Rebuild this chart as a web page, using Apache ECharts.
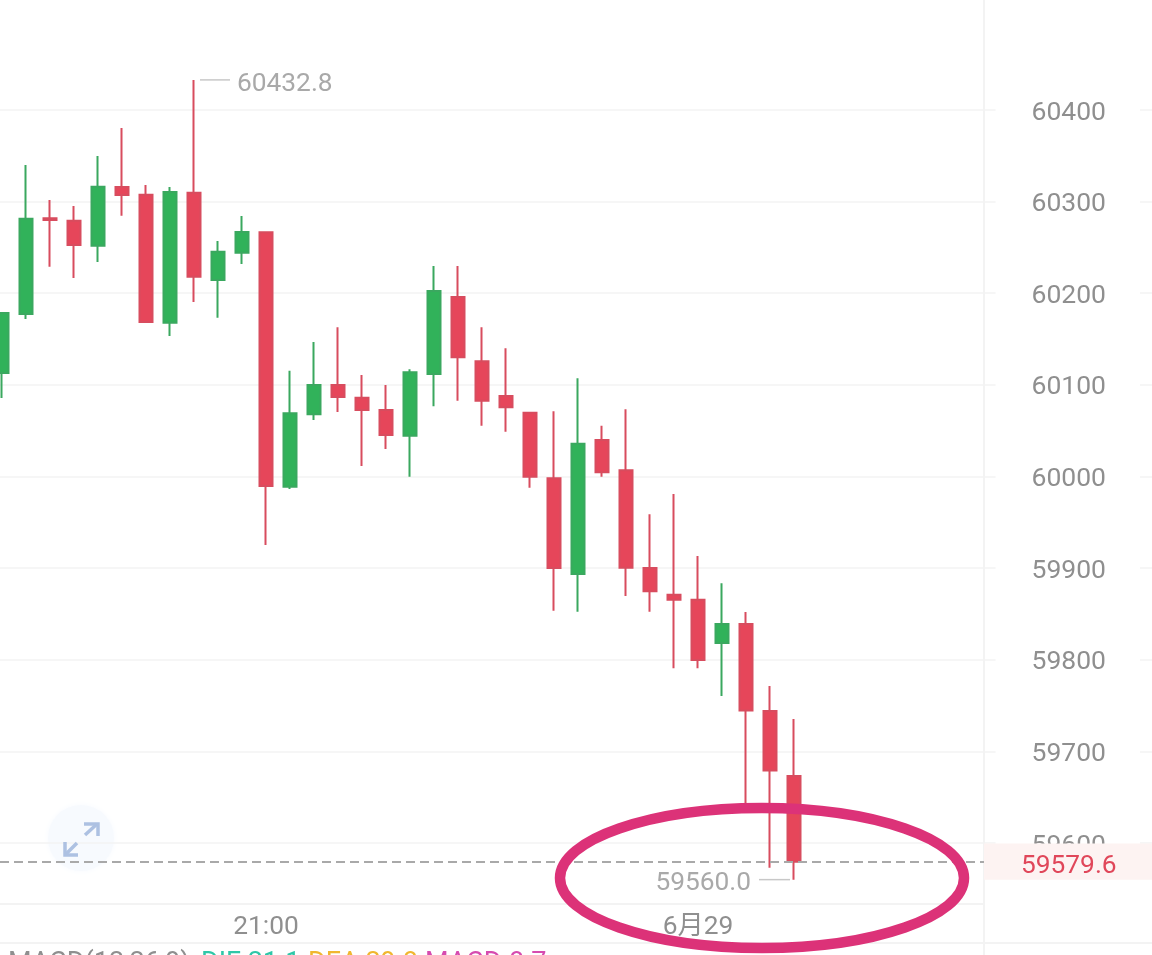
<!DOCTYPE html>
<html>
<head>
<meta charset="utf-8">
<style>
  html, body { margin: 0; padding: 0; background: #fff; overflow: hidden; }
  #chart { width: 1152px; height: 955px; }
</style>
<script src="https://cdn.jsdelivr.net/npm/echarts@6/dist/echarts.min.js"></script>
</head>
<body>
<div id="chart"></div>
<script>
// Ten-minute candles, 19:10 through 00:40
const categories = [
  '19:10','19:20','19:30','19:40','19:50','20:00','20:10','20:20','20:30','20:40','20:50',
  '21:00','21:10','21:20','21:30','21:40','21:50','22:00','22:10','22:20','22:30','22:40','22:50',
  '23:00','23:10','23:20','23:30','23:40','23:50','6月29','00:10','00:20','00:30','00:40'
];
const opens = [
  60112.9,60177.3,60281.7,60279.1,60251.8,60315.9,60307.5,60167.8,60309.7,60214.4,60244.2,
  60266.5,59988.8,60067.8,60099.8,60086.0,60072.5,60044.5,60111.8,60195.8,60125.7,60087.8,60069.6,
  59998.0,59893.6,60039.8,60006.7,59900.1,59871.0,59865.5,59818.3,59839.0,59744.1,59673.1
];
const closes = [
  60178.4,60281.3,60279.9,60252.6,60316.2,60307.2,60168.6,60310.4,60218.0,60245.3,60266.8,
  59989.6,60068.9,60099.8,60086.7,60072.5,60045.3,60113.7,60202.4,60130.0,60082.7,60075.5,59999.7,
  59900.1,60035.8,60004.5,59900.4,59874.7,59865.5,59799.7,59839.0,59744.6,59679.1,59579.6
];
const lows = [
  60085.6,60171.8,60228.9,60216.6,60234.0,60284.6,60168.6,60153.3,60190.4,60173.3,60231.9,
  59925.2,59986.3,60061.6,60070.4,60011.4,60030.0,59999.7,60076.6,60082.7,60055.4,60048.9,59987.7,
  59853.5,59852.4,59999.7,59869.6,59852.4,59790.6,59790.6,59760.4,59638.0,59573.0,59560.0
];
const highs = [
  60178.4,60339.9,60301.7,60295.2,60349.7,60380.3,60318.1,60315.9,60432.8,60257.0,60284.2,
  60266.5,60115.4,60146.7,60162.8,60110.7,60099.8,60117.0,60229.7,60229.7,60162.8,60139.9,60069.6,
  60071.1,60107.1,60055.4,60073.3,59958.7,59980.9,59913.2,59883.4,59852.1,59771.3,59735.3
];
const priceTicks = [59600, 59700, 59800, 59900, 60000, 60100, 60200, 60300, 60400];
const timeTicks = ['21:00', '6月29'];
const lastPrice = 59579.6;
const highPrice = 60432.8;
const lowPrice = 59560.0;
const highIndex = 8;
const lowIndex = 33;

const FONT = 'Roboto, "Noto Sans CJK SC", sans-serif';
const UP = '#31b25a';
const DOWN = '#e6465a';
const GRID = '#f3f3f3';

// Candle slots sit on a numeric axis so the first one can run off the left edge
const slotMin = -1 / 12;
const slotMax = 47 + 11 / 12;
const priceColumnSlot = 40 + 11 / 12;
const timeTickSlots = timeTicks.map(t => categories.indexOf(t));

const chart = echarts.init(document.getElementById('chart'), null, { renderer: 'canvas' });

chart.setOption({
  animation: false,
  backgroundColor: '#ffffff',
  grid: { left: 0, right: 0, top: 0, height: 904, containLabel: false },
  xAxis: {
    type: 'value',
    min: slotMin,
    max: slotMax,
    axisLine: { show: false },
    axisTick: { show: false, customValues: timeTickSlots },
    splitLine: { show: false },
    axisLabel: {
      customValues: timeTickSlots,
      formatter: v => categories[v],
      margin: 10,
      fontFamily: FONT,
      fontSize: 26.3,
      color: '#8f8f8f'
    }
  },
  yAxis: {
    type: 'value',
    position: 'right',
    min: 59533.4,
    max: 60520,
    axisLine: { show: false },
    axisTick: { show: false, customValues: priceTicks },
    splitLine: { show: true, lineStyle: { color: GRID, width: 1.5 } },
    axisLabel: {
      inside: true,
      customValues: priceTicks,
      margin: 12,
      formatter: v => '{t|' + v + '}',
      backgroundColor: '#ffffff',
      padding: [0, 34, 0, 36],
      rich: {
        t: { fontFamily: FONT, fontSize: 26.5, color: '#8f8f8f', padding: [6, 0, 0, 0] }
      }
    }
  },
  series: [{
    type: 'candlestick',
    barWidth: 14,
    encode: { x: 0, y: [1, 2, 3, 4] },
    itemStyle: {
      color: UP,
      color0: DOWN,
      borderColor: '#3aa85f',
      borderColor0: '#d84c5e',
      borderWidth: 2
    },
    data: opens.map((o, i) => [i, o, closes[i], lows[i], highs[i]]),
    markLine: {
      silent: true,
      symbol: 'none',
      animation: false,
      lineStyle: { color: '#a9a9a9', type: [9, 5], width: 1.8 },
      data: [[
        { coord: [slotMin, lastPrice] },
        {
          coord: [priceColumnSlot, lastPrice],
          label: {
            show: true,
            position: 'end',
            distance: 0,
            formatter: '{t|' + lastPrice.toFixed(1) + '}',
            backgroundColor: '#fdf3f2',
            align: 'left',
            padding: [4, 40, 0, 37],
            rich: {
              t: { fontFamily: FONT, fontSize: 26.3, color: '#e0475a', padding: [6, 0, 0, 0] }
            }
          }
        }
      ]]
    },
    markPoint: {
      silent: true,
      symbol: 'circle',
      symbolSize: 0,
      animation: false,
      data: [
        {
          coord: [highIndex, highPrice],
          label: {
            show: true,
            position: 'right',
            distance: 6,
            formatter: '{l|}{t|' + highPrice.toFixed(1) + '}',
            rich: {
              l: { width: 30, height: 1.5, backgroundColor: '#c8c8c8' },
              t: { fontFamily: FONT, fontSize: 26.3, color: '#a9a9a9', padding: [9, 0, 0, 7] }
            }
          }
        },
        {
          coord: [lowIndex, lowPrice],
          label: {
            show: true,
            position: 'left',
            distance: 4,
            formatter: '{t|' + lowPrice.toFixed(1) + '}{l|}',
            rich: {
              l: { width: 31, height: 1.5, backgroundColor: '#c8c8c8' },
              t: { fontFamily: FONT, fontSize: 26.3, color: '#a9a9a9', padding: [8, 8, 0, 0] }
            }
          }
        }
      ]
    }
  }],
  graphic: { elements: [
    // Panel separators
    { type: 'line', z: 1, silent: true, shape: { x1: 984, y1: 0, x2: 984, y2: 955 }, style: { stroke: GRID, lineWidth: 2 } },
    { type: 'line', z: 1, silent: true, shape: { x1: 0, y1: 904, x2: 984, y2: 904 }, style: { stroke: GRID, lineWidth: 2 } },
    { type: 'line', z: 1, silent: true, shape: { x1: 0, y1: 943, x2: 1152, y2: 943 }, style: { stroke: GRID, lineWidth: 2 } },
    // Expand button
    { type: 'circle', z: 0, silent: true, shape: { cx: 81, cy: 838, r: 33 }, style: { fill: '#f7fafe', shadowBlur: 6, shadowColor: '#f7fafe' } },
    { type: 'polyline', z: 1, silent: true, shape: { points: [[85, 835], [97, 824]] }, style: { stroke: '#adc1e2', lineWidth: 3.5, fill: null } },
    { type: 'polyline', z: 1, silent: true, shape: { points: [[84, 824], [98, 824], [98, 836]] }, style: { stroke: '#adc1e2', lineWidth: 3.5, fill: null } },
    { type: 'polyline', z: 1, silent: true, shape: { points: [[77, 843], [66, 854]] }, style: { stroke: '#adc1e2', lineWidth: 3.5, fill: null } },
    { type: 'polyline', z: 1, silent: true, shape: { points: [[65, 842], [65, 855], [78, 855]] }, style: { stroke: '#adc1e2', lineWidth: 3.5, fill: null } },
    // MACD readout strip along the bottom edge
    { type: 'text', z: 5, silent: true, left: 8, top: 951, style: { text: 'MACD(12,26,9)', font: '27px ' + FONT, fill: '#8f8f8f' } },
    { type: 'text', z: 5, silent: true, left: 201, top: 951, style: { text: 'DIF 21.1', font: '27px ' + FONT, fill: '#2fc7a8' } },
    { type: 'text', z: 5, silent: true, left: 308, top: 951, style: { text: 'DEA 29.8', font: '27px ' + FONT, fill: '#f0b72f' } },
    { type: 'text', z: 5, silent: true, left: 425, top: 951, style: { text: 'MACD-8.7', font: '27px ' + FONT, fill: '#d64bb0' } },
    // Hand-drawn highlight ring around the latest candles
    { type: 'ellipse', z: 50, silent: true, shape: { cx: 762, cy: 878, rx: 202, ry: 70 }, style: { fill: null, stroke: '#dc3278', lineWidth: 10.5 } }
  ] }
});
</script>
</body>
</html>
